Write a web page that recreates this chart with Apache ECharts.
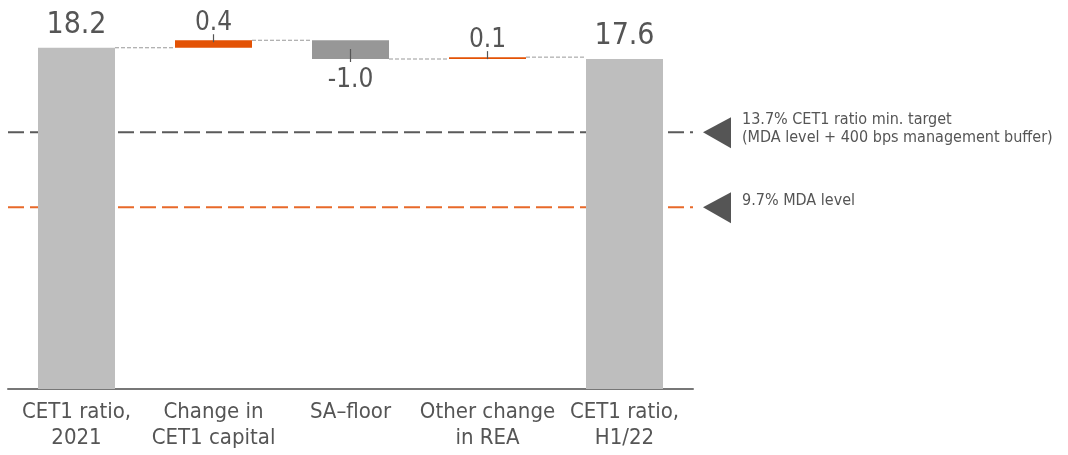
<!DOCTYPE html>
<html>
<head>
<meta charset="utf-8">
<script src="https://cdn.jsdelivr.net/npm/echarts@6/dist/echarts.min.js"></script>
<style>html,body{margin:0;padding:0;background:#fff}#c{width:1068px;height:455px}</style>
</head>
<body>
<div id="c"></div>
<script>
const categories = ['CET1 ratio,\n2021', 'Change in\nCET1 capital', 'SA\u2013floor', 'Other change\nin REA', 'CET1 ratio,\nH1/22'];
const values = [18.2, 0.4, -1.0, 0.1, 17.6];
const kinds = ['total', 'delta', 'delta', 'delta', 'total'];
const valueLabels = ['18.2', '0.4', '-1.0', '0.1', '17.6'];
const refLevels = [13.7, 9.7];
const refTexts = ['13.7% CET1 ratio min. target\n(MDA level + 400 bps management buffer)', '9.7% MDA level'];

const FONT = "'Liberation Sans Narrow', 'DejaVu Sans Condensed', sans-serif";
const TEXT = '#555555';
const COL_TOTAL = '#BEBEBE', COL_UP = '#E35205', COL_DOWN = '#979797';
const REF_COLORS = ['#5A5A5A', '#E8692A'];
const BAR_W = 77;

// waterfall computation
const bases = [], heights = [], levelsAfter = [], lows = [], highs = [];
let running = 0;
values.forEach((v, i) => {
  if (kinds[i] === 'total') {
    bases.push(0); heights.push(v); running = v;
    lows.push(0); highs.push(v);
  } else {
    const lo = Math.min(running, running + v);
    bases.push(lo); heights.push(Math.abs(v));
    lows.push(lo); highs.push(lo + Math.abs(v));
    running += v;
  }
  levelsAfter.push(running);
});

const barData = heights.map((h, i) => ({
  value: h,
  itemStyle: { color: kinds[i] === 'total' ? COL_TOTAL : (values[i] >= 0 ? COL_UP : COL_DOWN) }
}));

const chart = echarts.init(document.getElementById('c'), null, { renderer: 'canvas' });
chart.setOption({
  animation: false,
  grid: { left: 8, right: 375, top: 14, bottom: 66, containLabel: false },
  xAxis: {
    type: 'category', data: categories,
    axisLine: { lineStyle: { color: '#777', width: 2 } },
    axisTick: { show: false },
    axisLabel: { color: TEXT, fontFamily: FONT, fontSize: 22, lineHeight: 26, margin: 10, interval: 0 }
  },
  yAxis: { type: 'value', min: 0, max: 20, show: false, splitLine: { show: false } },
  series: [
    { type: 'bar', stack: 'w', data: bases, barWidth: BAR_W, itemStyle: { color: 'transparent' }, silent: true, z: 2 },
    { type: 'bar', stack: 'w', data: barData, barWidth: BAR_W, z: 2 },
    // reference lines + annotations
    {
      type: 'custom', z: 1,
      data: refLevels.map((l, i) => [0, l, i]),
      renderItem: (params, api) => {
        const cs = params.coordSys;
        const idx = api.value(2);
        const y = api.coord([0, api.value(1)])[1];
        const x1 = cs.x, x2 = cs.x + cs.width;
        const tx = x2 + 10;
        return {
          type: 'group',
          children: [
            { type: 'line', shape: { x1: x1, y1: y, x2: x2, y2: y },
              style: { stroke: REF_COLORS[idx], lineWidth: 2, lineDash: [16, 6] } },
            { type: 'polygon', shape: { points: [[tx, y], [tx + 28, y - 15], [tx + 28, y + 16]] },
              style: { fill: '#555' } },
            { type: 'text', x: tx + 39, y: y - (idx === 0 ? 3 : 6),
              style: { text: refTexts[idx], fill: TEXT, font: '16px ' + FONT, lineHeight: 18,
                       textAlign: 'left', textVerticalAlign: 'middle' } }
          ]
        };
      }
    },
    // connectors, ticks and value labels
    {
      type: 'custom', z: 3,
      data: values.map((v, i) => [i, v]),
      renderItem: (params, api) => {
        const i = api.value(0);
        const v = api.value(1);
        const children = [];
        const cx = api.coord([i, 0])[0];
        const half = BAR_W / 2;
        if (i < values.length - 1) {
          const cy = api.coord([i, levelsAfter[i]])[1];
          const nx = api.coord([i + 1, 0])[0];
          children.push({ type: 'line', shape: { x1: cx + half, y1: cy, x2: nx - half, y2: cy },
            style: { stroke: '#999', lineWidth: 1, lineDash: [4, 2] } });
        }
        const topY = api.coord([i, highs[i]])[1];
        const botY = api.coord([i, lows[i]])[1];
        if (kinds[i] === 'total') {
          children.push({ type: 'text', x: cx, y: topY - 8,
            style: { text: valueLabels[i], fill: TEXT, font: '30px ' + FONT, textAlign: 'center', textVerticalAlign: 'bottom' } });
        } else if (v >= 0) {
          children.push({ type: 'line', shape: { x1: cx, y1: topY + 2, x2: cx, y2: topY - 6 },
            style: { stroke: '#555', lineWidth: 1.2 } });
          children.push({ type: 'text', x: cx, y: topY - 4,
            style: { text: valueLabels[i], fill: TEXT, font: '26px ' + FONT, textAlign: 'center', textVerticalAlign: 'bottom' } });
        } else {
          children.push({ type: 'line', shape: { x1: cx, y1: botY - 10, x2: cx, y2: botY + 3 },
            style: { stroke: '#555', lineWidth: 1.2 } });
          children.push({ type: 'text', x: cx, y: botY + 8,
            style: { text: valueLabels[i], fill: TEXT, font: '26px ' + FONT, textAlign: 'center', textVerticalAlign: 'top' } });
        }
        return { type: 'group', children: children };
      }
    }
  ]
});
</script>
</body>
</html>
